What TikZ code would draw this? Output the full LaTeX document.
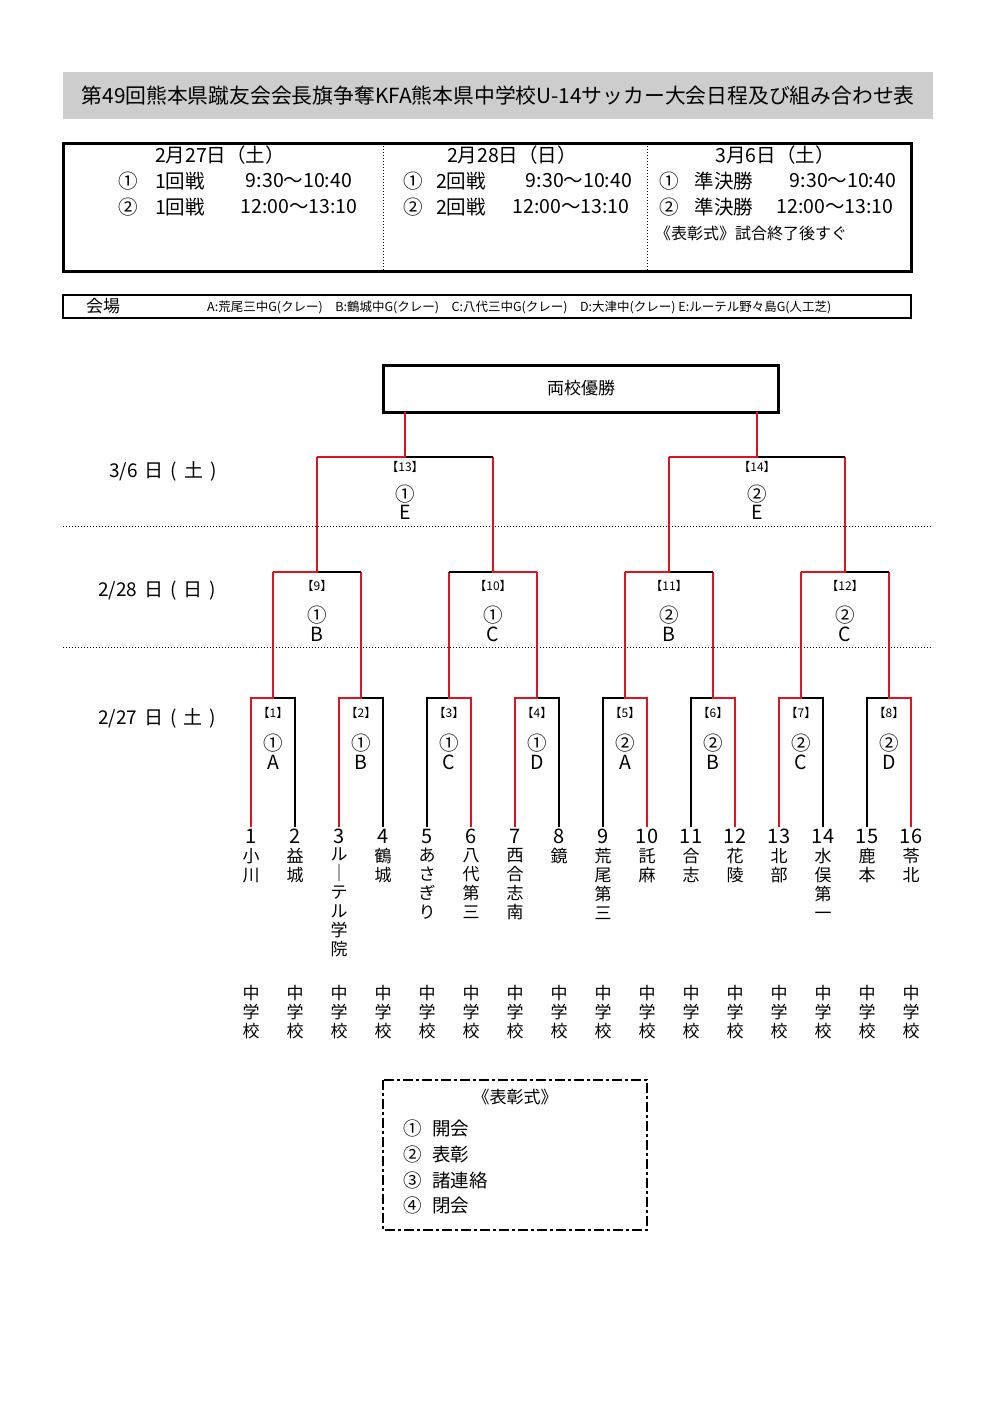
\documentclass[tikz,border=0pt]{standalone}
\usepackage{fontspec}
\setmainfont{Noto Sans CJK JP}
\usetikzlibrary{positioning}
\definecolor{winred}{RGB}{220,20,30}
\definecolor{titlegray}{RGB}{205,205,205}
\tikzset{
  loser/.style={line width=1.2pt,black},
  winner/.style={line width=2.4pt,winred},
  tag/.style={font=\fontsize{12}{12}\selectfont,inner sep=0pt},
  venuetxt/.style={font=\fontsize{17}{17}\selectfont,inner sep=0pt},
  schedtxt/.style={font=\fontsize{19.5}{19.5}\selectfont,inner sep=0pt},
  datetxt/.style={font=\fontsize{19}{19}\selectfont,inner sep=0pt},
  leafnum/.style={font=\fontsize{20}{20}\selectfont,inner sep=0pt},
  leafname/.style={font=\fontsize{17}{19}\selectfont,inner sep=0pt,align=center,anchor=north},
  dotline/.style={line width=1pt,dotted}
}
\newcommand\gap{\hspace{7pt}}
\begin{document}
\begin{tikzpicture}[x=1pt,y=-1pt]
\useasboundingbox (0,0) rectangle (1000,1414);

% title
\node[fill=titlegray,minimum width=870pt,minimum height=47pt,inner sep=0pt,anchor=north west,
      font=\fontsize{20.8}{21}\selectfont] (title) at (63,72)
  {第49回熊本県蹴友会会長旗争奪KFA熊本県中学校U-14サッカー大会日程及び組み合わせ表};

% schedule table
\draw[line width=3pt] (63,143) rectangle (911,271);
\draw[dotline] (383,143) -- (383,271);
\draw[dotline] (647,143) -- (647,271);
\node[schedtxt] (d1) at (220,155) {2月27日（土）};
\node[schedtxt] (d2) at (512,155) {2月28日（日）};
\node[schedtxt] (d3) at (775,155) {3月6日（土）};
\foreach \cx/\rd/\tx [count=\c] in {128/1回戦/180,413/2回戦/461,669/準決勝/724}{
  \node[schedtxt] (r\c a) at (\cx,181) {①};
  \node[schedtxt] (r\c b) at (\cx,207) {②};
  \node[schedtxt] (r\c c) at (\tx,181) {\rd};
  \node[schedtxt] (r\c d) at (\tx,207) {\rd};
}
\node[schedtxt] (t1a) at (299,181) {9:30～10:40};
\node[schedtxt] (t1b) at (299,207) {12:00～13:10};
\node[schedtxt] (t2a) at (579,181) {9:30～10:40};
\node[schedtxt] (t2b) at (571,207) {12:00～13:10};
\node[schedtxt] (t3a) at (843,181) {9:30～10:40};
\node[schedtxt] (t3b) at (835,207) {12:00～13:10};
\node[font=\fontsize{16}{16}\selectfont,inner sep=0pt,anchor=west] (cere) at (655,233) {《表彰式》試合終了後すぐ};

% venue
\draw[line width=1.4pt] (63,295) rectangle (911,318);
\node[venuetxt] (venue) at (103,306) {会場};
\node[font=\fontsize{12.5}{12.5}\selectfont,inner sep=0pt,anchor=west] (venues) at (207,307)
  {A:荒尾三中G(クレー)\quad B:鶴城中G(クレー)\quad C:八代三中G(クレー)\quad D:大津中(クレー) E:ルーテル野々島G(人工芝)};

% final box
\draw[line width=3pt] (383,365) rectangle (778,412);
\node[venuetxt] (champ) at (581,388) {両校優勝};

% dates and separators
\node[datetxt] (day3) at (163,471) {3/6\gap 日\gap (\gap 土\gap )};
\node[datetxt] (day2) at (157,591) {2/28\gap 日\gap (\gap 日\gap )};
\node[datetxt] (day1) at (157,718) {2/27\gap 日\gap (\gap 土\gap )};
\draw[dotline] (63,526) -- (933,526);
\draw[dotline] (63,647) -- (933,647);

% round 1
\foreach \w/\num/\slot/\field [count=\i] in {0/1/①/A,0/2/①/B,1/3/①/C,0/4/①/D,1/5/②/A,1/6/②/B,0/7/②/C,1/8/②/D}{
  \pgfmathsetmacro\L{251+88*(\i-1)}
  \pgfmathsetmacro\R{\L+44}
  \pgfmathsetmacro\M{\L+22}
  \pgfmathsetmacro\W{\w==0 ? \L : \R}
  \pgfmathsetmacro\N{\w==0 ? \R : \L}
  \draw[loser] (\N,827) -- (\N,698) -- (\L,698) -- (\R,698);
  \draw[winner] (\W,827) -- (\W,698) -- (\M,698) -- (\M,572);
  \node[tag] (m\num) at (\M,713) {【\num】};
  \node[schedtxt] (s\num) at (\M,743) {\slot};
  \node[schedtxt] (f\num) at (\M,762) {\field};
}

% round 2
\foreach \w/\num/\slot/\field [count=\j] in {0/9/①/B,1/10/①/C,0/11/②/B,0/12/②/C}{
  \pgfmathsetmacro\L{273+176*(\j-1)}
  \pgfmathsetmacro\R{\L+88}
  \pgfmathsetmacro\M{\L+44}
  \pgfmathsetmacro\W{\w==0 ? \L : \R}
  \draw[loser] (\L,572) -- (\R,572);
  \draw[winner] (\W,572) -- (\M,572) -- (\M,457);
  \node[tag] (m\num) at (\M,586) {【\num】};
  \node[schedtxt] (s\num) at (\M,615) {\slot};
  \node[schedtxt] (f\num) at (\M,634) {\field};
}

% semi-finals
\foreach \L/\num/\slot [count=\k] in {317/13/①,669/14/②}{
  \pgfmathsetmacro\R{\L+176}
  \pgfmathsetmacro\M{\L+88}
  \draw[loser] (\L,457) -- (\R,457);
  \draw[winner] (\L,457) -- (\M,457) -- (\M,412);
  \node[tag] (m\num) at (\M,467) {【\num】};
  \node[schedtxt] (s\num) at (\M,494) {\slot};
  \node[schedtxt] (f\num) at (\M,512) {E};
}

% schools
\foreach \nm [count=\i] in {小\\川,益\\城,ル\\｜\\テ\\ル\\学\\院,鶴\\城,あ\\さ\\ぎ\\り,八\\代\\第\\三,西\\合\\志\\南,鏡,
  荒\\尾\\第\\三,託\\麻,合\\志,花\\陵,北\\部,水\\俣\\第\\一,鹿\\本,苓\\北}{
  \pgfmathsetmacro\X{251+44*(\i-1)}
  \node[leafnum] (n\i) at (\X,836) {\i};
  \node[leafname] (sc\i) at (\X,848) {\nm};
  \node[leafname] (jh\i) at (\X,985) {中\\学\\校};
}

% ceremony box
\draw[line width=2.5pt,dash pattern=on 10pt off 3pt on 3pt off 3pt] (383,1080) rectangle (647,1230);
\node[venuetxt] (cer) at (515,1097) {《表彰式》};
\foreach \c/\t [count=\i] in {①/開会,②/表彰,③/諸連絡,④/閉会}{
  \node[font=\fontsize{18.5}{18.5}\selectfont,inner sep=0pt] (cn\i) at (413,1103+25.7*\i) {\c};
  \node[font=\fontsize{18.5}{18.5}\selectfont,inner sep=0pt,anchor=west] (ct\i) at (432,1103+25.7*\i) {\t};
}
\end{tikzpicture}
\end{document}
